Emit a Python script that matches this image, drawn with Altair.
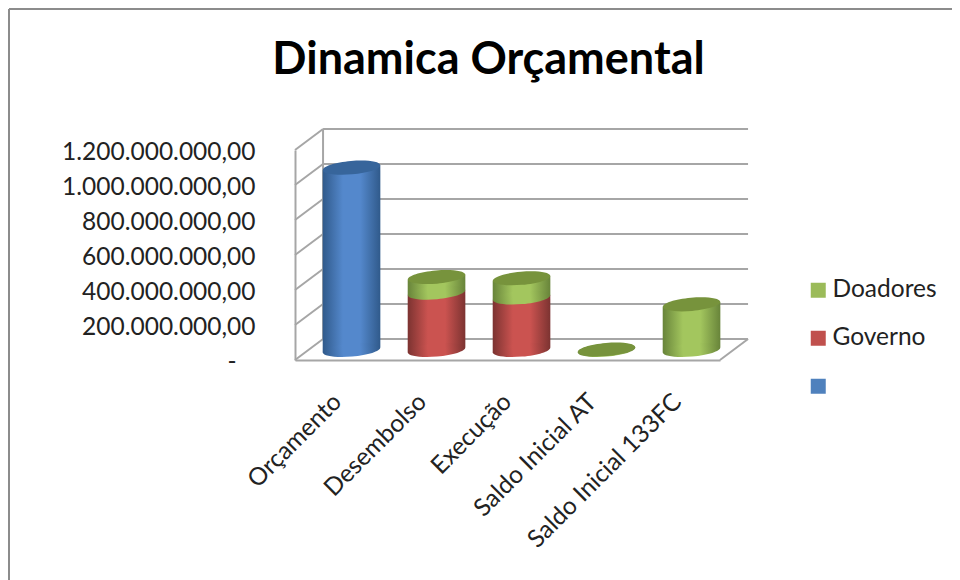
import json
import altair as alt
import pandas as pd

# ---- values ----
categories = ["Orçamento", "Desembolso", "Execução", "Saldo Inicial AT", "Saldo Inicial 133FC"]
orcamento = [1042e6, 0, 0, 0, 0]
governo = [0, 328e6, 300e6, 0, 0]
doadores = [0, 89e6, 110e6, 3e6, 261e6]
y_ticks = [0, 200e6, 400e6, 600e6, 800e6, 1000e6, 1200e6]
legend_names = ["Doadores", "Governo", " "]
legend_colors = ["#9BBB59", "#C0504D", "#4F81BD"]

# pseudo-3D geometry, in data units
DEPTH_X, DEPTH_Y = 0.33, 120e6
BASE_Y = 57e6
HALF = 0.339
TILT = 14e6
ELLIPSE = "M-1,0A1,0.23 0 1,1 1,0A1,0.23 0 1,1 -1,0Z"
ELL_SIZE = 3318
FONT = "Lato"
GRID = "#a6a6a6"
INK = "#222222"

def grad(edge, mid):
    return alt.Gradient(gradient="linear", x1=0, x2=1, y1=0, y2=0, stops=[
        alt.GradientStop(offset=0, color=edge),
        alt.GradientStop(offset=0.35, color=mid),
        alt.GradientStop(offset=0.65, color=mid),
        alt.GradientStop(offset=1, color=edge)])

G_BLUE = grad("#305a8b", "#5488CC")
G_RED = grad("#7c3331", "#CB5350")
G_GREEN = grad("#68843a", "#A3C65E")

def pieces(starts, vals):
    body, ends = [], []
    for i, (s, v) in enumerate(zip(starts, vals)):
        if v <= 0:
            continue
        cx = i + 0.5 + DEPTH_X / 2
        lo, hi = s + BASE_Y, s + v + BASE_Y
        body.append(dict(c=i, x=cx - HALF, lo=lo - TILT, hi=hi - TILT))
        body.append(dict(c=i, x=cx + HALF, lo=lo + TILT, hi=hi + TILT))
        ends.append(dict(c=i, x=cx, lo=lo, hi=hi))
    return pd.DataFrame(body), pd.DataFrame(ends)

zeros = [0] * 5
b_body, b_end = pieces(zeros, orcamento)
r_body, r_end = pieces(zeros, governo)
g_body, g_end = pieces(governo, doadores)

label_expr = ("datum.value==0?'-\u00a0\u00a0\u00a0\u200b':"
              "replace(replace(replace(format(datum.value,',.2f'),/,/g,'#'),/[.]/g,','),/#/g,'.')")
cat_expr = json.dumps(categories, ensure_ascii=False) + "[round(datum.value-0.5)]"

xs = alt.Scale(domain=[0, 5], nice=False, zero=False)
ys = alt.Scale(domain=[0, 1200e6], nice=False, zero=False)
x_axis = alt.Axis(
    values=[i + 0.5 for i in range(5)], labelExpr=cat_expr, title=None, grid=False, ticks=False,
    labelAngle=-45, labelAlign="right", labelBaseline="middle", labelPadding=38, labelLimit=400,
    labelFontSize=24.5, labelFont=FONT, labelColor=INK, domainColor=GRID, domainWidth=2,
    labelOverlap=False, labelBound=False, labelFlush=False)
y_axis = alt.Axis(
    values=y_ticks, labelExpr=label_expr, title=None, grid=False, ticks=False, labelPadding=40, labelLimit=400,
    labelOffset=2, labelFontSize=24.5, labelFont=FONT, labelColor=INK, domainColor=GRID, domainWidth=2,
    labelOverlap=False, labelBound=False, labelFlush=False)
X = lambda f: alt.X(f, type="quantitative", scale=xs, axis=x_axis)
Y = lambda f: alt.Y(f, type="quantitative", scale=ys, axis=y_axis)

def stack(body, end, fill, top=None):
    layers = [
        alt.Chart(body).mark_area(fill=fill, opacity=1).encode(
            x=X("x"), y=Y("lo"), y2=alt.Y2("hi"), detail="c:N"),
        alt.Chart(end).mark_point(shape=ELLIPSE, size=ELL_SIZE, filled=True, fill=fill,
                                  opacity=1, angle=355, strokeWidth=0).encode(x=X("x"), y=Y("lo")),
    ]
    if top:
        layers.append(alt.Chart(end).mark_point(shape=ELLIPSE, size=ELL_SIZE, filled=True, fill=top,
                                                opacity=1, angle=355, strokeWidth=0).encode(x=X("x"), y=Y("hi")))
    return layers

walls = pd.DataFrame({"v": y_ticks})
walls["b"] = walls["v"] + DEPTH_Y
walls["x0"], walls["x1"], walls["x2"] = 0.0, DEPTH_X, 5 + DEPTH_X

rule = dict(color=GRID, strokeWidth=2)
back_lines = alt.Chart(walls).mark_rule(**rule).encode(x=X("x1"), x2="x2", y=Y("b"))
side_lines = alt.Chart(walls).mark_rule(**rule).encode(x=X("x0"), x2="x1", y=Y("v"), y2="b")
corner = pd.DataFrame([dict(x=DEPTH_X, lo=DEPTH_Y, hi=1200e6 + DEPTH_Y)])
back_edge = alt.Chart(corner).mark_rule(**rule).encode(x=X("x"), y=Y("lo"), y2="hi")
floor = pd.DataFrame([dict(x=5.0, x2=5 + DEPTH_X, lo=0.0, hi=DEPTH_Y)])
floor_edge = alt.Chart(floor).mark_rule(**rule).encode(x=X("x"), x2="x2", y=Y("lo"), y2="hi")

axes = alt.Chart(pd.DataFrame({"x": [0.0], "y": [0.0], "s": [legend_names[0]]})).mark_point(
    size=0, filled=True, opacity=1).encode(
    x=X("x"), y=Y("y"),
    color=alt.Color("s:N", scale=alt.Scale(domain=legend_names, range=legend_colors), legend=alt.Legend(
        title=None, orient="none", legendX=511, legendY=128, symbolType="square", symbolSize=225,
        symbolOpacity=1, symbolStrokeWidth=0, labelFontSize=24.5, labelFont=FONT, labelColor=INK,
        rowPadding=23, labelOffset=2, padding=0)),
)

frame_top = alt.Chart(pd.DataFrame({"a": [0]})).mark_rule(color="#8c8c8c", strokeWidth=2).encode(
    x=alt.value(-286), x2=alt.value(680), y=alt.value(-141))
frame_left = alt.Chart(pd.DataFrame({"a": [0]})).mark_rule(color="#8c8c8c", strokeWidth=2).encode(
    x=alt.value(-286), y=alt.value(-141), y2=alt.value(440))

layers = [frame_top, frame_left, back_lines, side_lines, back_edge, floor_edge, axes]
layers += stack(b_body, b_end, G_BLUE, "#37659b")
layers += stack(r_body, r_end, G_RED)
layers += stack(g_body, g_end, G_GREEN, "#77933C")

chart = alt.layer(*layers).properties(
    width=425, height=210,
    title=alt.TitleParams("Dinamica Orçamental", font=FONT, fontSize=45, fontWeight="bold", color="#000000",
                          anchor="middle", frame="group", offset=-75, dx=-19),
    autosize=alt.AutoSizeParams(type="none"),
    padding={"left": 287, "top": 142, "right": 232, "bottom": 220},
).configure_view(stroke=None)

chart.save("out.html", embed_options={"renderer": "svg", "actions": False})
